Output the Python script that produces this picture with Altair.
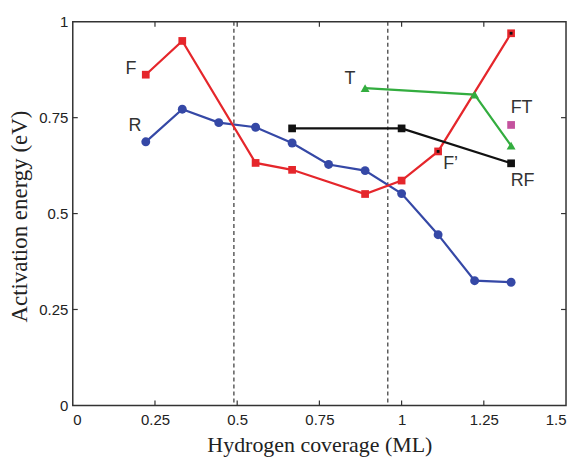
import altair as alt
import pandas as pd

# ---- data ----
f_x = [0.222, 0.333, 0.556, 0.667, 0.889, 1.0, 1.111, 1.333]
f_y = [0.862, 0.950, 0.632, 0.614, 0.551, 0.586, 0.662, 0.970]
fp_x = [1.111, 1.333]
fp_y = [0.662, 0.970]
r_x = [0.222, 0.333, 0.444, 0.556, 0.667, 0.778, 0.889, 1.0, 1.111, 1.222, 1.333]
r_y = [0.687, 0.772, 0.737, 0.725, 0.684, 0.628, 0.612, 0.552, 0.445, 0.325, 0.321]
rf_x = [0.667, 1.0, 1.333]
rf_y = [0.722, 0.722, 0.631]
t_x = [0.889, 1.222, 1.333]
t_y = [0.827, 0.810, 0.677]
ft_x = [1.333]
ft_y = [0.731]
vline_x = [0.49, 0.958]
label_text = ["F", "R", "T", "FT", "F\u2019", "RF"]
label_x = [0.177, 0.189, 0.843, 1.365, 1.149, 1.368]
label_y = [0.877, 0.729, 0.851, 0.776, 0.628, 0.586]
x_ticks = [0, 0.25, 0.5, 0.75, 1, 1.25, 1.5]
y_ticks = [0, 0.25, 0.5, 0.75, 1]

RED = "#e5262b"
BLUE = "#3548a6"
GREEN = "#33ad3f"
BLACK = "#111111"
MAGENTA = "#c4529e"

W, H = 495, 385

xs = alt.Scale(domain=[0, 1.5], nice=False, zero=False)
ys = alt.Scale(domain=[0, 1], nice=False, zero=False)

xaxis = alt.Axis(values=x_ticks, labelExpr="toString(datum.value)", ticks=False, tickSize=0,
                 domain=False, grid=False, labelFont="Liberation Sans", labelFontSize=15,
                 labelColor="#222", labelPadding=7, title="Hydrogen coverage (ML)",
                 titleFont="Liberation Serif", titleFontSize=22, titleFontWeight="normal",
                 titleColor="#222", titleY=46, titleBaseline="alphabetic", titleX=W / 2)
yaxis = alt.Axis(values=y_ticks, labelExpr="toString(datum.value)", ticks=False, tickSize=0,
                 domain=False, grid=False, labelFont="Liberation Sans", labelFontSize=15,
                 labelColor="#222", labelPadding=5, title="Activation energy (eV)",
                 titleFont="Liberation Serif", titleFontSize=23, titleFontWeight="normal",
                 titleColor="#222", titleX=-46, titleY=195, titleBaseline="alphabetic",
                 titleAngle=-90)

XQ = alt.X("x:Q", scale=xs, axis=xaxis)
YQ = alt.Y("y:Q", scale=ys, axis=yaxis)


def df(x, y):
    return pd.DataFrame({"x": x, "y": y})


def enc(chart):
    return chart.encode(x=XQ, y=YQ)


layers = []

# dashed vertical lines
vl = pd.DataFrame({"x": vline_x})
layers.append(alt.Chart(vl).mark_rule(color="#444", strokeWidth=1.3, strokeDash=[4, 3]).encode(x=XQ))

# inward ticks
xt = pd.DataFrame({"x": x_ticks[1:-1]})
yt = pd.DataFrame({"y": y_ticks[1:-1]})
layers.append(alt.Chart(xt).mark_rule(color="#333", strokeWidth=1.2).encode(
    x=XQ, y=alt.value(H), y2=alt.value(H - 5)))
layers.append(alt.Chart(xt).mark_rule(color="#333", strokeWidth=1.2).encode(
    x=XQ, y=alt.value(0), y2=alt.value(5)))
layers.append(alt.Chart(yt).mark_rule(color="#333", strokeWidth=1.2).encode(
    y=YQ, x=alt.value(0), x2=alt.value(5)))
layers.append(alt.Chart(yt).mark_rule(color="#333", strokeWidth=1.2).encode(
    y=YQ, x=alt.value(W), x2=alt.value(W - 5)))

# series
for x, y, c in [(r_x, r_y, BLUE), (f_x, f_y, RED), (rf_x, rf_y, BLACK), (t_x, t_y, GREEN)]:
    layers.append(enc(alt.Chart(df(x, y)).mark_line(color=c, strokeWidth=2.2)))

layers.append(enc(alt.Chart(df(r_x, r_y)).mark_circle(color=BLUE, size=80, opacity=1)))
layers.append(enc(alt.Chart(df(f_x, f_y)).mark_square(color=RED, size=60, opacity=1)))
layers.append(enc(alt.Chart(df(fp_x, fp_y)).mark_square(color=BLACK, size=8, opacity=1)))
layers.append(enc(alt.Chart(df(rf_x, rf_y)).mark_square(color=BLACK, size=60, opacity=1)))
layers.append(enc(alt.Chart(df(t_x, t_y)).mark_point(shape="triangle-up", filled=True,
                                                      color=GREEN, size=80, opacity=1)))
layers.append(enc(alt.Chart(df(ft_x, ft_y)).mark_square(color=MAGENTA, size=60, opacity=1)))

# series labels
lab = pd.DataFrame({"x": label_x, "y": label_y, "t": label_text})
layers.append(enc(alt.Chart(lab).mark_text(font="Liberation Sans", fontSize=18, color="#333",
                                            align="center", baseline="middle")).encode(text="t:N"))

chart = alt.layer(*layers).properties(
    width=W, height=H,
    background="white",
    padding={"left": 65, "top": 13, "right": 5, "bottom": 52},
    autosize=alt.AutoSizeParams(type="none"),
).configure_view(stroke="#333", strokeWidth=1.5)

chart.save("out.html", embed_options={"renderer": "svg", "actions": False})
